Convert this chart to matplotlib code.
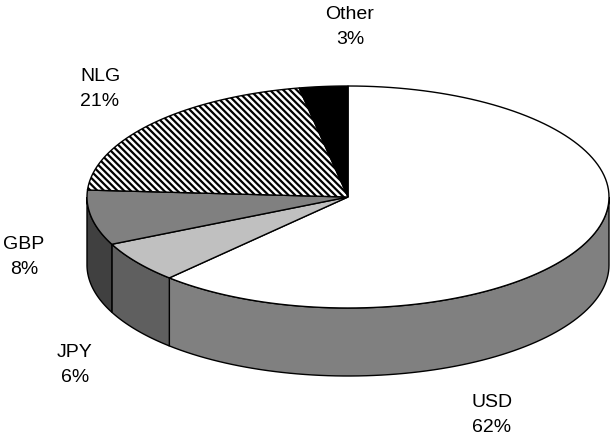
import numpy as np
import matplotlib
matplotlib.use('Agg')
import matplotlib.pyplot as plt
from matplotlib.patches import Polygon

plt.rcParams['font.family'] = ['Liberation Sans', 'DejaVu Sans']
plt.rcParams['hatch.linewidth'] = 1.6

# currency shares, clockwise from 12 o'clock
currencies = ['USD', 'JPY', 'GBP', 'NLG', 'Other']
shares = [62, 6, 8, 21, 3]
top_colors = ['white', '#c0c0c0', '#808080', 'white', 'black']
side_colors = ['#808080', '#5f5f5f', '#404040', '#808080', 'black']
hatches = [None, None, None, '\\' * 5, None]
label_pos = [(492, 415), (75, 365), (24, 257), (100, 89), (350, 27)]

# ellipse geometry in pixel space
cx, cy = 348, 197
rx, ry = 261, 111
depth = 68

fig = plt.figure(figsize=(6.1, 4.37), dpi=100)
ax = fig.add_axes([0, 0, 1, 1])
ax.set_xlim(0, 610)
ax.set_ylim(437, 0)
ax.axis('off')


def rim(a):
    # a in degrees, math convention; y grows downward on screen
    r = np.radians(a)
    return cx + rx * np.cos(r), cy - ry * np.sin(r)


ends = 90 - 360 * np.cumsum(shares) / sum(shares)
starts = np.concatenate([[90], ends[:-1]])

# side walls: only the front half (angles between -180 and 0) is visible
for a0, a1, sc in zip(starts, ends, side_colors):
    lo, hi = max(a1, -180), min(a0, 0)
    if lo >= hi:
        continue
    t = np.linspace(hi, lo, 80)
    xs, ys = rim(t)
    pts = np.column_stack([np.concatenate([xs, xs[::-1]]),
                           np.concatenate([ys, ys[::-1] + depth])])
    ax.add_patch(Polygon(pts, closed=True, facecolor=sc, edgecolor='black',
                         linewidth=1.0, joinstyle='miter'))

# top faces
for a0, a1, tc, h in zip(starts, ends, top_colors, hatches):
    t = np.linspace(a0, a1, 120)
    xs, ys = rim(t)
    pts = np.column_stack([np.concatenate([[cx], xs]),
                           np.concatenate([[cy], ys])])
    ax.add_patch(Polygon(pts, closed=True, facecolor=tc, edgecolor='black',
                         linewidth=1.0, hatch=h, joinstyle='miter'))

for name, pct, (lx, ly) in zip(currencies, shares, label_pos):
    ax.text(lx, ly, f'{name}\n{pct}%', ha='center', va='center',
            fontsize=14, linespacing=1.6)

fig.savefig('out.png', dpi=100)
